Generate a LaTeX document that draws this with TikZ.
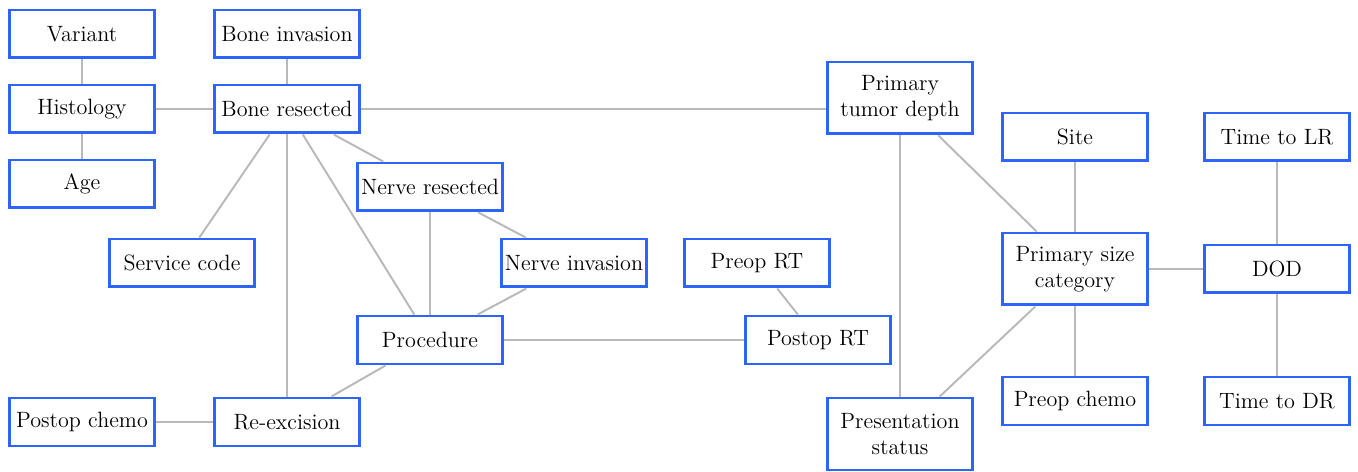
\documentclass[tikz,border=0pt]{standalone}
\definecolor{boxblue}{RGB}{45,100,250}
\definecolor{linkgray}{RGB}{185,185,185}
\tikzset{
    var/.style = {draw = boxblue, line width = 1.7pt, fill = white, minimum width = 2.9cm,
        minimum height = 0.96cm, align = center, inner sep = 1pt,
        font = \fontsize{12.6}{14.5}\selectfont},
    tall/.style = {var, minimum height = 1.44cm},
    link/.style = {draw = linkgray, line width = 1.1pt}
}
\begin{document}
\begin{tikzpicture}[x = 0.02cm, y = -0.02cm]
    \useasboundingbox[fill = white] (0,0) rectangle (1358,472);
    % left block
    \node[var] (variant) at (82,34) {Variant};
    \node[var] (histology) at (82,109) {Histology};
    \node[var] (age) at (82,184) {Age};
    \node[var] (boneinv) at (287,34) {Bone invasion};
    \node[var] (boneres) at (287,109) {Bone resected};
    \node[var] (service) at (182,263) {Service code};
    \node[var] (nerveres) at (430,187) {Nerve resected};
    \node[var] (nerveinv) at (574,263) {Nerve invasion};
    \node[var] (procedure) at (430,340) {Procedure};
    \node[var] (postchemo) at (82,422) {Postop chemo};
    \node[var] (reexc) at (287,422) {Re-excision};
    % middle block
    \node[var] (preRT) at (757,263) {Preop RT};
    \node[var] (postRT) at (818,340) {Postop RT};
    \node[tall] (depth) at (900,98) {Primary\\tumor depth};
    \node[tall] (status) at (900,434) {Presentation\\status};
    % right block
    \node[var] (site) at (1075,137) {Site};
    \node[tall] (size) at (1075,269) {Primary size\\category};
    \node[var] (prechemo) at (1075,401) {Preop chemo};
    \node[var] (timeLR) at (1277,137) {Time to LR};
    \node[var] (dod) at (1277,269) {DOD};
    \node[var] (timeDR) at (1277,401) {Time to DR};

    \draw[link] (boneres) -- (boneres -| depth.west);
    \foreach \a/\b in {variant/histology, histology/age, histology/boneres, boneinv/boneres,
        boneres/service, boneres/reexc, boneres/procedure, boneres/nerveres,
        nerveres/procedure, nerveres/nerveinv, nerveinv/procedure, procedure/reexc,
        procedure/postRT, preRT/postRT, postchemo/reexc, depth/status, depth/size,
        status/size, site/size, size/prechemo, size/dod, timeLR/dod, dod/timeDR}
    \draw[link] (\a) -- (\b);
\end{tikzpicture}
\end{document}
